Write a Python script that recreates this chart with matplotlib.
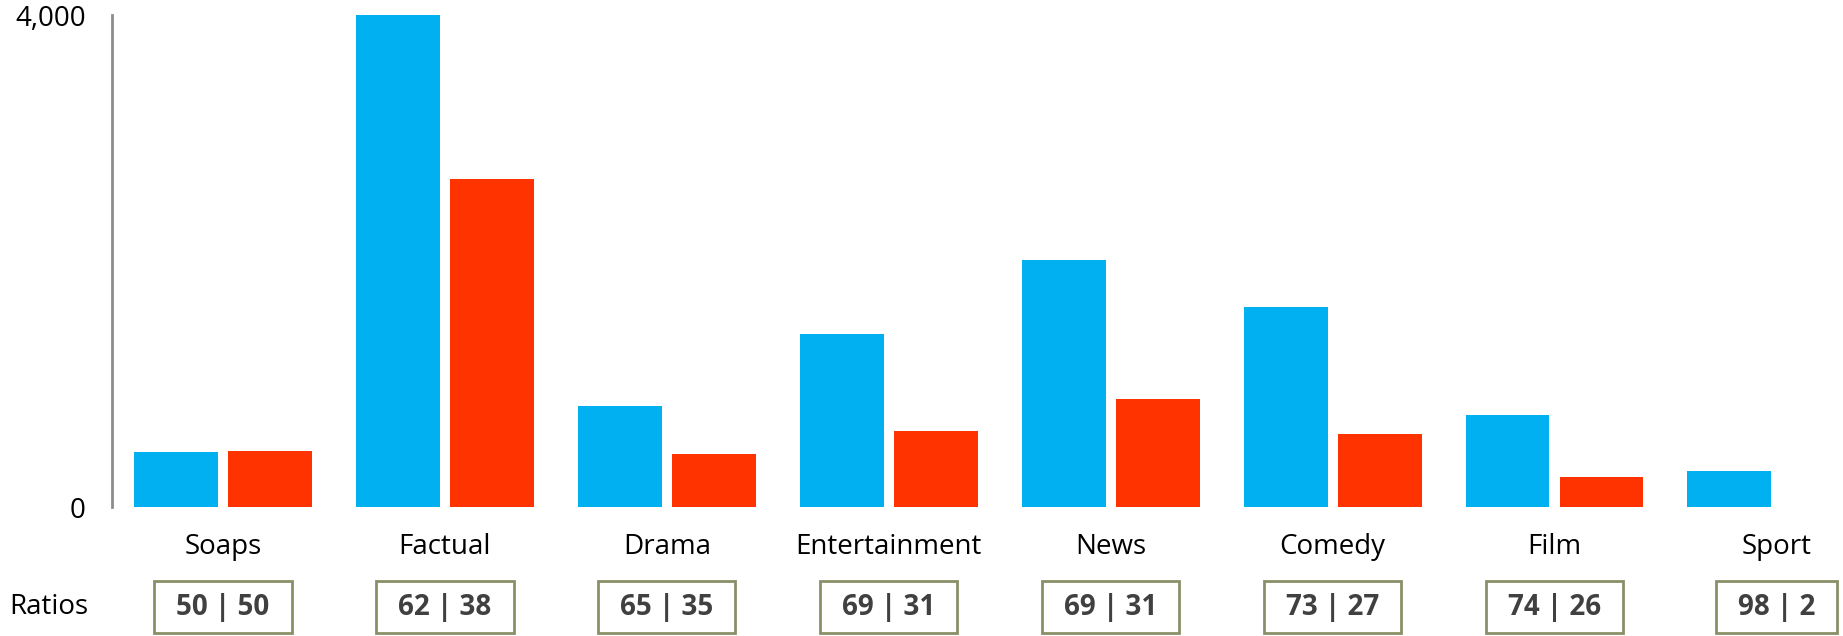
import matplotlib
matplotlib.use('Agg')

import numpy as np
import matplotlib.pyplot as plt
import matplotlib.transforms as mtrans
from matplotlib.patches import Rectangle

categories = ['Soaps', 'Factual', 'Drama', 'Entertainment', 'News', 'Comedy', 'Film', 'Sport']
blue_vals = [450, 4000, 825, 1410, 2010, 1625, 750, 293]
red_vals = [455, 2667, 430, 620, 880, 590, 245, 0]
ratios = ['50 | 50', '62 | 38', '65 | 35', '69 | 31', '69 | 31', '73 | 27', '74 | 26', '98 | 2']

BLUE = '#00B0F0'
RED = '#FF3300'
FONT = 'Open Sans'
FSIZE = 20

W, H = 1843, 636
fig = plt.figure(figsize=(W / 100, H / 100), dpi=100)
ax = fig.add_axes([112 / W, (H - 507) / H, 1 - 112 / W, 492 / H])

x = np.arange(len(categories))
bw = 0.378
off = 0.2117
ax.bar(x - off, blue_vals, bw, color=BLUE)
ax.bar(x + off, red_vals, bw, color=RED)

ax.set_xlim(-0.5, 7.3)
ax.set_ylim(0, 4000)
ax.set_yticks([0, 4000])
ax.set_yticklabels(['0', '4,000'], fontsize=FSIZE, fontname=FONT)
ax.tick_params(axis='y', length=0, pad=19)
ax.set_xticks([])
for s in ['top', 'right', 'bottom']:
    ax.spines[s].set_visible(False)
ax.spines['left'].set_color('#8c8c8c')
ax.spines['left'].set_linewidth(2)

trans = mtrans.blended_transform_factory(ax.transData, fig.transFigure)

# category labels under each group
for i, c in enumerate(categories):
    ax.text(i, (H - 547) / H, c, transform=trans, ha='center', va='center',
            fontsize=FSIZE, fontname=FONT)

# ratio row
fig.text(9 / W, (H - 607) / H, 'Ratios', ha='left', va='center',
         fontsize=FSIZE, fontname=FONT)
txts = []
for i, r in enumerate(ratios):
    t = ax.text(i, (H - 607) / H, r, transform=trans, ha='center', va='center',
                fontsize=FSIZE, fontname=FONT, fontweight='bold', color='#404040')
    txts.append(t)

fig.canvas.draw()
rend = fig.canvas.get_renderer()
for t in txts:
    bb = t.get_window_extent(rend)
    rect = Rectangle((bb.x0 - 22, H - 633), bb.width + 44, 52, transform=None,
                     fill=False, edgecolor='#8a8f68', linewidth=2, clip_on=False)
    fig.add_artist(rect)

fig.savefig('out.png', dpi=100)
